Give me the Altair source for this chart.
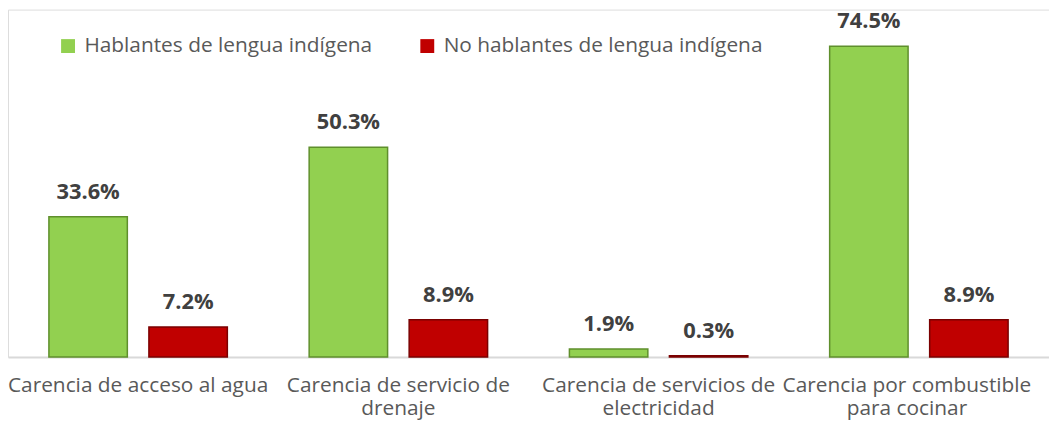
import altair as alt
import pandas as pd

categories = [
    "Carencia de acceso al agua",
    "Carencia de servicio de drenaje",
    "Carencia de servicios de electricidad",
    "Carencia por combustible para cocinar",
]
label_lines = [
    ["Carencia de acceso al agua"],
    ["Carencia de servicio de", "drenaje"],
    ["Carencia de servicios de", "electricidad"],
    ["Carencia por combustible", "para cocinar"],
]
series = ["Hablantes de lengua indígena", "No hablantes de lengua indígena"]
hablantes = [33.6, 50.3, 1.9, 74.5]
no_hablantes = [7.2, 8.9, 0.3, 8.9]
colors = ["#92D050", "#C00000"]
strokes = ["#5F8F2C", "#7A0000"]

rows = []
for i, c in enumerate(categories):
    rows.append({"cat": c, "serie": series[0], "valor": hablantes[i]})
    rows.append({"cat": c, "serie": series[1], "valor": no_hablantes[i]})
df = pd.DataFrame(rows)
df["etiqueta"] = df["valor"].map(lambda v: f"{v:.1f}%")

expr = "''"
for c, lines in reversed(list(zip(categories, label_lines))):
    arr = "[" + ",".join("'" + l + "'" for l in lines) + "]"
    expr = f"datum.label == '{c}' ? {arr} : ({expr})"

FONT = "Open Sans"

x = alt.X(
    "cat:N",
    sort=categories,
    scale=alt.Scale(paddingInner=0, paddingOuter=alt.ExprRef(expr="-0.0245"), align=0),
    axis=alt.Axis(
        title=None,
        labelExpr=expr,
        labelAngle=0,
        labelFont=FONT,
        labelFontSize=21,
        labelColor="#595959",
        labelLineHeight=23,
        labelPadding=18,
        labelBaseline="top",
        labelOffset={"condition": {"test": f"datum.value == '{categories[-1]}'", "value": -12}, "value": 0},
        ticks=False,
        domainColor="#D9D9D9",
        domainWidth=2,
        labelLimit=400,
    ),
)
xoff = alt.XOffset(
    "serie:N",
    sort=series,
    scale=alt.Scale(paddingInner=0.2157, paddingOuter=0.409),
)
y = alt.Y("valor:Q", scale=alt.Scale(domain=[0, 83.3], nice=False), axis=None)

bars = alt.Chart(df).mark_bar(strokeWidth=1.5, strokeOpacity=1).encode(
    x=x,
    xOffset=xoff,
    y=y,
    color=alt.Color(
        "serie:N",
        sort=series,
        scale=alt.Scale(domain=series, range=colors),
        legend=alt.Legend(
            title=None,
            orient="none",
            legendX=50,
            legendY=26,
            direction="horizontal",
            symbolType="square",
            symbolSize=196,
            symbolStrokeWidth=0,
            labelFont=FONT,
            labelFontSize=21,
            labelColor="#595959",
            labelOffset=6,
            columnPadding=44,
            labelLimit=500,
        ),
    ),
    stroke=alt.Stroke(
        "serie:N", sort=series, scale=alt.Scale(domain=series, range=strokes), legend=None
    ),
)

texts = alt.Chart(df).mark_text(
    font=FONT, fontSize=22, fontWeight="bold", color="#404040", baseline="alphabetic", dy=-18
).encode(x=x, xOffset=xoff, y=y, text="etiqueta:N")

chart = (
    alt.layer(bars, texts)
    .properties(width=1049, height=350, padding={"left": 0, "top": 0, "right": 0, "bottom": 66},
                autosize=alt.AutoSizeParams(type="none"))
    .configure_view(stroke=None)
    .configure(background="white")
)

chart.save("out.html", embed_options={"renderer": "svg", "actions": False})
